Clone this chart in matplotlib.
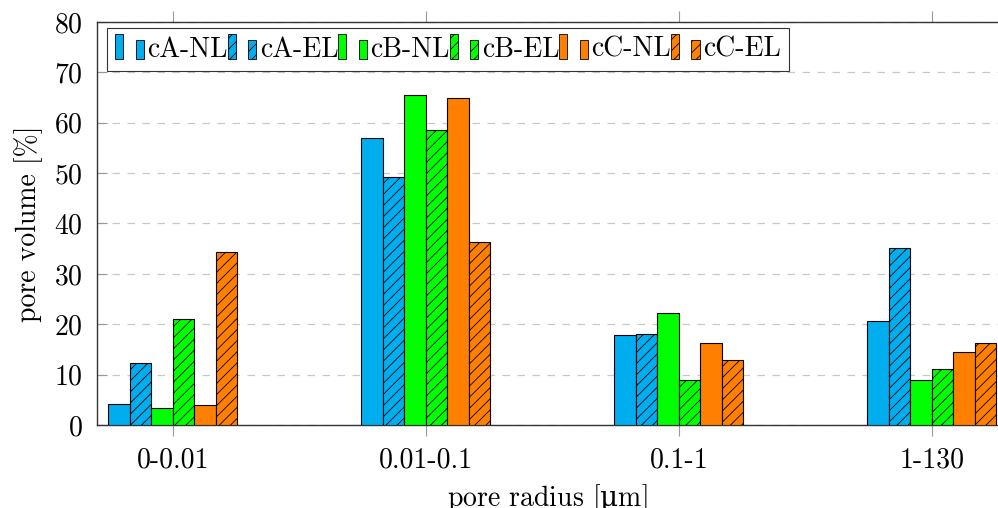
import numpy as np
import matplotlib
matplotlib.use("Agg")
from matplotlib import pyplot as plt
from matplotlib.patches import Rectangle
from matplotlib.legend_handler import HandlerBase

plt.rcParams['font.family'] = ['cmr10', 'DejaVu Serif']
plt.rcParams['axes.formatter.use_mathtext'] = True
plt.rcParams['mathtext.fontset'] = 'dejavuserif'
plt.rcParams['hatch.linewidth'] = 0.6
plt.rcParams['font.size'] = 20

# data
categories = ['0-0.01', '0.01-0.1', '0.1-1', '1-130']
series = ['cA-NL', 'cA-EL', 'cB-NL', 'cB-EL', 'cC-NL', 'cC-EL']
cA_NL = [4.1, 56.9, 17.9, 20.7]
cA_EL = [12.4, 49.3, 18.0, 35.1]
cB_NL = [3.4, 65.6, 22.3, 8.9]
cB_EL = [21.0, 58.5, 9.0, 11.2]
cC_NL = [3.9, 64.9, 16.3, 14.4]
cC_EL = [34.3, 36.4, 13.0, 16.3]
values = [cA_NL, cA_EL, cB_NL, cB_EL, cC_NL, cC_EL]
colors = ['#00aeef', '#00aeef', '#00ff00', '#00ff00', '#ff8000', '#ff8000']
hatches = [None, '///', None, '///', None, '///']


# pgfplots-like legend image: two little bars
class TwoBars(HandlerBase):
    def create_artists(self, legend, orig, xd, yd, w, h, fontsize, trans):
        fc = orig.get_facecolor()
        hatch = orig.get_hatch()
        bw = w * 0.28
        r1 = Rectangle((xd, yd - h * 0.1), bw, h * 1.25, facecolor=fc,
                       edgecolor='black', lw=0.6, hatch=hatch, transform=trans)
        r2 = Rectangle((xd + w * 0.7, yd - h * 0.1), bw, h * 0.95, facecolor=fc,
                       edgecolor='black', lw=0.6, hatch=hatch, transform=trans)
        return [r1, r2]


fig = plt.figure(figsize=(9.98, 5.08), dpi=100)
ax = fig.add_axes([0.0972, 0.1634, 0.9028, 0.7933])

x = np.arange(len(categories))
width = 0.085
handles = []
for i, (name, vals) in enumerate(zip(series, values)):
    bars = ax.bar(x + (i - 2.5) * width, vals, width, color=colors[i],
                  edgecolor='black', linewidth=0.8, hatch=hatches[i],
                  label=name, zorder=3)
    handles.append(bars[0])

ax.set_xlim(-0.30, 3.262)
ax.set_ylim(0, 80)
ax.set_yticks(np.arange(0, 81, 10))
ax.set_xticks(x, labels=categories)
ax.yaxis.grid(True, linestyle=(0, (6, 6)), color='#c8c8c8', linewidth=0.9, zorder=0)
ax.set_axisbelow(True)

ax.spines['right'].set_visible(False)
for s in ['left', 'top', 'bottom']:
    ax.spines[s].set_linewidth(1.0)
    ax.spines[s].set_color('#333333')

ax.tick_params(axis='x', direction='out', length=8, width=0.8, color='#999999',
               top=True, pad=8)
ax.tick_params(axis='y', direction='in', length=7, width=0.8, color='#999999',
               pad=10)

ax.set_ylabel('pore volume [%]', labelpad=8)
ax.set_xlabel(r'pore radius [$\mathrm{\mu}$m]', labelpad=6)

leg = ax.legend(handles, series, handler_map={h: TwoBars() for h in handles},
                ncol=6, loc='upper left', bbox_to_anchor=(0.011, 0.985),
                frameon=True, fancybox=False, edgecolor='black',
                handlelength=1.05, handletextpad=0.1, columnspacing=0.0,
                borderpad=0.3, borderaxespad=0.0)
leg.get_frame().set_linewidth(0.8)

fig.savefig('out.png', dpi=100)
